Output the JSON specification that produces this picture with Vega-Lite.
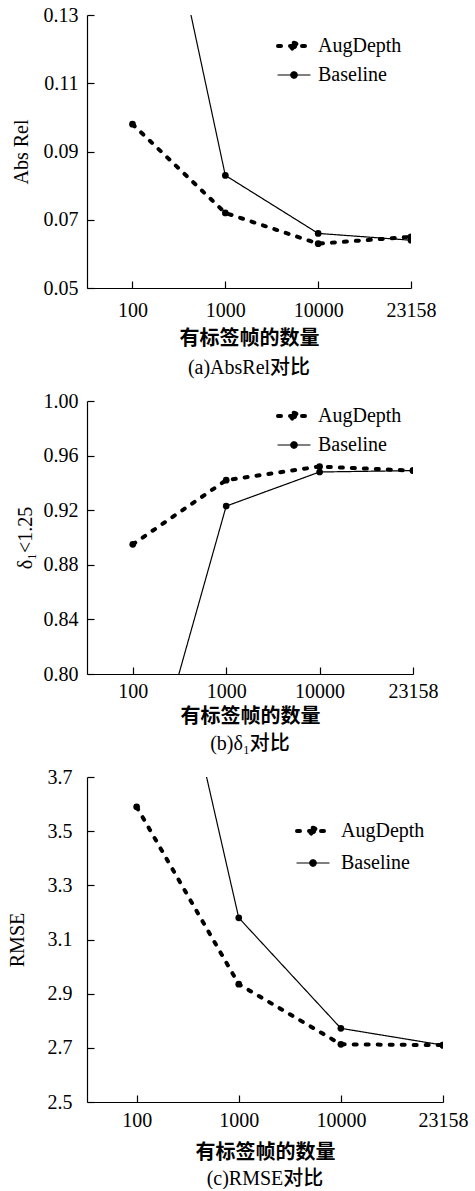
{
  "$schema": "https://vega.github.io/schema/vega-lite/v6.json",
  "padding": {"left": 7, "top": 5, "right": 5, "bottom": 0},
  "background": "white",
  "spacing": 13,
  "config": {
    "font": "Liberation Serif",
    "view": {"stroke": null},
    "axis": {
      "labelFont": "Liberation Serif",
      "labelFontSize": 20,
      "labelColor": "black",
      "domainColor": "black",
      "domainWidth": 1.2,
      "tickColor": "black",
      "tickWidth": 1.2,
      "tickSize": -7,
      "grid": false,
      "titleColor": "black"
    },
    "axisX": {
      "titleFont": "Noto Sans CJK SC",
      "titleFontWeight": "bold",
      "titleFontSize": 20,
      "labelAngle": 0
    },
    "axisY": {
      "titleFont": "Liberation Serif",
      "titleFontWeight": "normal",
      "titleFontSize": 20
    },
    "legend": {
      "labelFont": "Liberation Serif",
      "labelFontSize": 20,
      "labelColor": "black",
      "title": null,
      "symbolFillColor": "black",
      "symbolStrokeColor": "black"
    },
    "title": {
      "font": "Liberation Serif, Noto Sans CJK SC",
      "fontSize": 20,
      "fontWeight": 500,
      "color": "black",
      "orient": "bottom",
      "anchor": "middle"
    }
  },
  "datasets": {
    "a": [
      {"n": "100", "method": "AugDepth", "value": 0.098},
      {"n": "1000", "method": "AugDepth", "value": 0.072},
      {"n": "10000", "method": "AugDepth", "value": 0.063},
      {"n": "23158", "method": "AugDepth", "value": 0.065},
      {"n": "100", "method": "Baseline", "value": 0.21},
      {"n": "1000", "method": "Baseline", "value": 0.083},
      {"n": "10000", "method": "Baseline", "value": 0.066},
      {"n": "23158", "method": "Baseline", "value": 0.064}
    ],
    "b": [
      {"n": "100", "method": "AugDepth", "value": 0.895},
      {"n": "1000", "method": "AugDepth", "value": 0.942},
      {"n": "10000", "method": "AugDepth", "value": 0.952},
      {"n": "23158", "method": "AugDepth", "value": 0.949},
      {"n": "100", "method": "Baseline", "value": 0.68},
      {"n": "1000", "method": "Baseline", "value": 0.923},
      {"n": "10000", "method": "Baseline", "value": 0.948},
      {"n": "23158", "method": "Baseline", "value": 0.949}
    ],
    "c": [
      {"n": "100", "method": "AugDepth", "value": 3.59},
      {"n": "1000", "method": "AugDepth", "value": 2.935},
      {"n": "10000", "method": "AugDepth", "value": 2.713},
      {"n": "23158", "method": "AugDepth", "value": 2.71},
      {"n": "100", "method": "Baseline", "value": 4.83},
      {"n": "1000", "method": "Baseline", "value": 3.18},
      {"n": "10000", "method": "Baseline", "value": 2.772},
      {"n": "23158", "method": "Baseline", "value": 2.71}
    ]
  },
  "resolve": {"legend": {"strokeDash": "independent", "strokeWidth": "independent"}, "scale": {"x": "independent", "y": "independent"}},
  "vconcat": [
    {
      "width": 324,
      "height": 273,
      "data": {"name": "a"},
      "title": {"text": "(a)AbsRel对比", "offset": 10},
      "encoding": {
        "x": {"field": "n", "type": "ordinal", "sort": ["100", "1000", "10000", "23158"],
              "scale": {"type": "point", "padding": 0.245, "align": 1},
              "axis": {"title": "有标签帧的数量", "labelPadding": 19, "titlePadding": 8}},
        "y": {"field": "value", "type": "quantitative",
              "scale": {"domain": [0.05, 0.13], "zero": false, "nice": false},
              "axis": {"title": "Abs Rel", "values": [0.05, 0.07, 0.09, 0.11, 0.13], "format": ".2f", "labelPadding": 16, "titlePadding": 12}}
      },
      "layer": [
        {
          "mark": {"type": "line", "clip": true, "color": "black", "strokeCap": "round"},
          "encoding": {
            "strokeDash": {"field": "method", "type": "nominal",
              "scale": {"domain": ["AugDepth", "Baseline"], "range": [[3, 9], [1, 0]]},
              "legend": {"orient": "none", "legendX": 189, "legendY": 13, "symbolType": "M-1,0L1,0M-0.2,0A0.2,0.2 0 1,0 0.2,0A0.2,0.2 0 1,0 -0.2,0", "symbolSize": 1024, "labelOffset": 6, "rowPadding": -1,
                "encode": {"symbols": {"enter": {"fill": {"value": "black"}}, "update": {"fill": {"value": "black"}, "stroke": {"value": "black"}, "strokeCap": {"value": "round"}}}}}},
            "strokeWidth": {"field": "method", "type": "nominal",
              "scale": {"domain": ["AugDepth", "Baseline"], "range": [4, 1.2]},
              "legend": {"orient": "none", "legendX": 189, "legendY": 13, "symbolType": "M-1,0L1,0M-0.2,0A0.2,0.2 0 1,0 0.2,0A0.2,0.2 0 1,0 -0.2,0", "symbolSize": 1024, "labelOffset": 6, "rowPadding": -1,
                "encode": {"symbols": {"enter": {"fill": {"value": "black"}}, "update": {"fill": {"value": "black"}, "stroke": {"value": "black"}, "strokeCap": {"value": "round"}}}}}}
          }
        },
        {
          "mark": {"type": "point", "filled": true, "clip": true, "color": "black", "size": 45, "opacity": 1}
        }
      ]
    },
    {
      "width": 326,
      "height": 273,
      "data": {"name": "b"},
      "title": {"text": "(b)δ₁对比", "offset": 8},
      "encoding": {
        "x": {"field": "n", "type": "ordinal", "sort": ["100", "1000", "10000", "23158"],
              "scale": {"type": "point", "padding": 0.245, "align": 1},
              "axis": {"title": "有标签帧的数量", "labelPadding": 14, "titlePadding": 5}},
        "y": {"field": "value", "type": "quantitative",
              "scale": {"domain": [0.8, 1.0], "zero": false, "nice": false},
              "axis": {"title": "δ₁<1.25", "values": [0.8, 0.84, 0.88, 0.92, 0.96, 1.0], "format": ".2f", "labelPadding": 16, "titlePadding": 8}}
      },
      "layer": [
        {
          "mark": {"type": "line", "clip": true, "color": "black", "strokeCap": "round"},
          "encoding": {
            "strokeDash": {"field": "method", "type": "nominal",
              "scale": {"domain": ["AugDepth", "Baseline"], "range": [[3, 9], [1, 0]]},
              "legend": {"orient": "none", "legendX": 189, "legendY": -3, "symbolType": "M-1,0L1,0M-0.2,0A0.2,0.2 0 1,0 0.2,0A0.2,0.2 0 1,0 -0.2,0", "symbolSize": 1024, "labelOffset": 6, "rowPadding": -2,
                "encode": {"symbols": {"enter": {"fill": {"value": "black"}}, "update": {"fill": {"value": "black"}, "stroke": {"value": "black"}, "strokeCap": {"value": "round"}}}}}},
            "strokeWidth": {"field": "method", "type": "nominal",
              "scale": {"domain": ["AugDepth", "Baseline"], "range": [4, 1.2]},
              "legend": {"orient": "none", "legendX": 189, "legendY": -3, "symbolType": "M-1,0L1,0M-0.2,0A0.2,0.2 0 1,0 0.2,0A0.2,0.2 0 1,0 -0.2,0", "symbolSize": 1024, "labelOffset": 6, "rowPadding": -2,
                "encode": {"symbols": {"enter": {"fill": {"value": "black"}}, "update": {"fill": {"value": "black"}, "stroke": {"value": "black"}, "strokeCap": {"value": "round"}}}}}}
          }
        },
        {
          "mark": {"type": "point", "filled": true, "clip": true, "color": "black", "size": 45, "opacity": 1}
        }
      ]
    },
    {
      "width": 356,
      "height": 325,
      "data": {"name": "c"},
      "title": {"text": "(c)RMSE对比", "offset": 7},
      "encoding": {
        "x": {"field": "n", "type": "ordinal", "sort": ["100", "1000", "10000", "23158"],
              "scale": {"type": "point", "padding": 0.243, "align": 1},
              "axis": {"title": "有标签帧的数量", "labelPadding": 15, "titlePadding": 12}},
        "y": {"field": "value", "type": "quantitative",
              "scale": {"domain": [2.5, 3.7], "zero": false, "nice": false},
              "axis": {"title": "RMSE", "values": [2.5, 2.7, 2.9, 3.1, 3.3, 3.5, 3.7], "format": ".1f", "labelPadding": 22, "titlePadding": 20}}
      },
      "layer": [
        {
          "mark": {"type": "line", "clip": true, "color": "black", "strokeCap": "round"},
          "encoding": {
            "strokeDash": {"field": "method", "type": "nominal",
              "scale": {"domain": ["AugDepth", "Baseline"], "range": [[3, 9], [1, 0]]},
              "legend": {"orient": "none", "legendX": 208, "legendY": 36, "symbolType": "M-1,0L1,0M-0.2,0A0.2,0.2 0 1,0 0.2,0A0.2,0.2 0 1,0 -0.2,0", "symbolSize": 1024, "labelOffset": 10, "rowPadding": 3,
                "encode": {"symbols": {"enter": {"fill": {"value": "black"}}, "update": {"fill": {"value": "black"}, "stroke": {"value": "black"}, "strokeCap": {"value": "round"}}}}}},
            "strokeWidth": {"field": "method", "type": "nominal",
              "scale": {"domain": ["AugDepth", "Baseline"], "range": [4, 1.2]},
              "legend": {"orient": "none", "legendX": 208, "legendY": 36, "symbolType": "M-1,0L1,0M-0.2,0A0.2,0.2 0 1,0 0.2,0A0.2,0.2 0 1,0 -0.2,0", "symbolSize": 1024, "labelOffset": 10, "rowPadding": 3,
                "encode": {"symbols": {"enter": {"fill": {"value": "black"}}, "update": {"fill": {"value": "black"}, "stroke": {"value": "black"}, "strokeCap": {"value": "round"}}}}}}
          }
        },
        {
          "mark": {"type": "point", "filled": true, "clip": true, "color": "black", "size": 45, "opacity": 1}
        }
      ]
    }
  ]
}
